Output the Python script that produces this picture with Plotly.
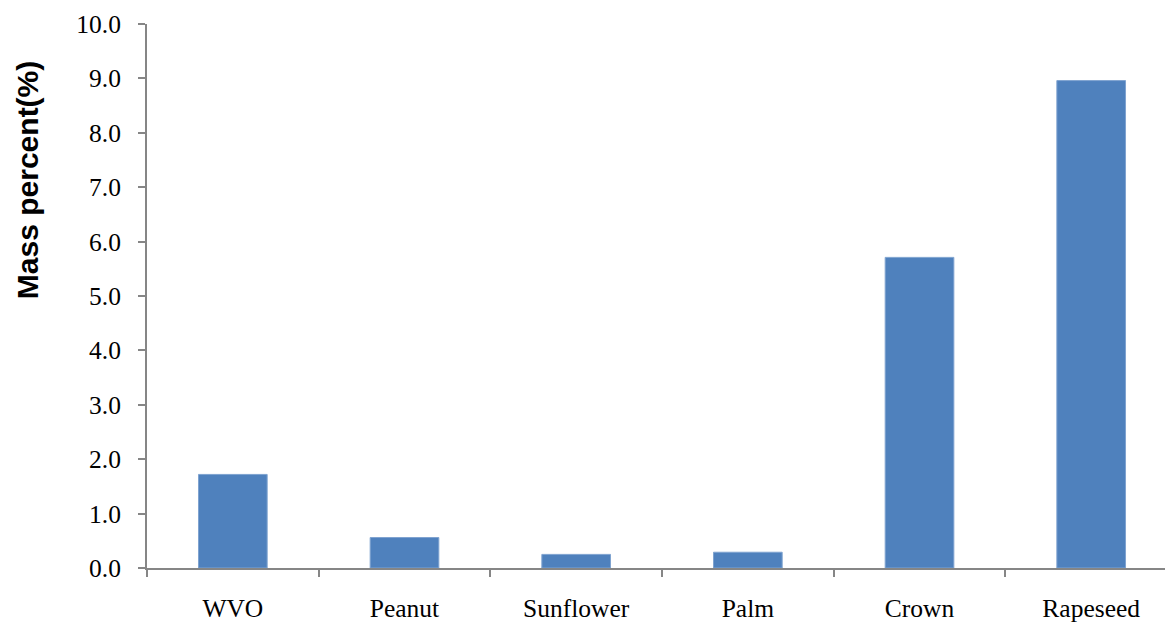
import plotly.graph_objects as go

# Mass percent of each oil sample
categories = ["WVO", "Peanut", "Sunflower", "Palm", "Crown", "Rapeseed"]
mass_percent = [1.72, 0.56, 0.25, 0.29, 5.71, 8.96]
y_ticks = [0, 1, 2, 3, 4, 5, 6, 7, 8, 9, 10]

axis_grey = "#868686"

fig = go.Figure(
    go.Bar(
        x=categories,
        y=mass_percent,
        marker=dict(color="#4F81BD", line=dict(color="#7FA3D0", width=1)),
        width=0.4,
    )
)

fig.update_layout(
    width=1165,
    height=622,
    margin=dict(l=147, r=0, t=24, b=54),
    plot_bgcolor="white",
    paper_bgcolor="white",
    showlegend=False,
    font=dict(family="Liberation Serif, Times New Roman, serif", size=25.5, color="black"),
)

fig.update_xaxes(
    type="category",
    range=[-0.5, 5.43],
    showline=True,
    linecolor=axis_grey,
    linewidth=2,
    ticks="outside",
    tickson="boundaries",
    ticklen=7,
    tickwidth=2,
    tickcolor=axis_grey,
    showgrid=False,
    ticklabelstandoff=16,
)

fig.update_yaxes(
    range=[0, 10],
    tickvals=y_ticks,
    tickformat=".1f",
    showline=True,
    linecolor=axis_grey,
    linewidth=2,
    ticks="outside",
    ticklen=7,
    tickwidth=2,
    tickcolor=axis_grey,
    showgrid=False,
    zeroline=False,
    ticklabelstandoff=12,
)

fig.add_annotation(
    text="<b>Mass percent(%)</b>",
    textangle=-90,
    xref="paper",
    yref="paper",
    x=0,
    y=0.713,
    xshift=-120,
    xanchor="center",
    yanchor="middle",
    showarrow=False,
    font=dict(family="Liberation Sans, Arial, sans-serif", size=30, color="black"),
)

fig.write_html("out.html")
